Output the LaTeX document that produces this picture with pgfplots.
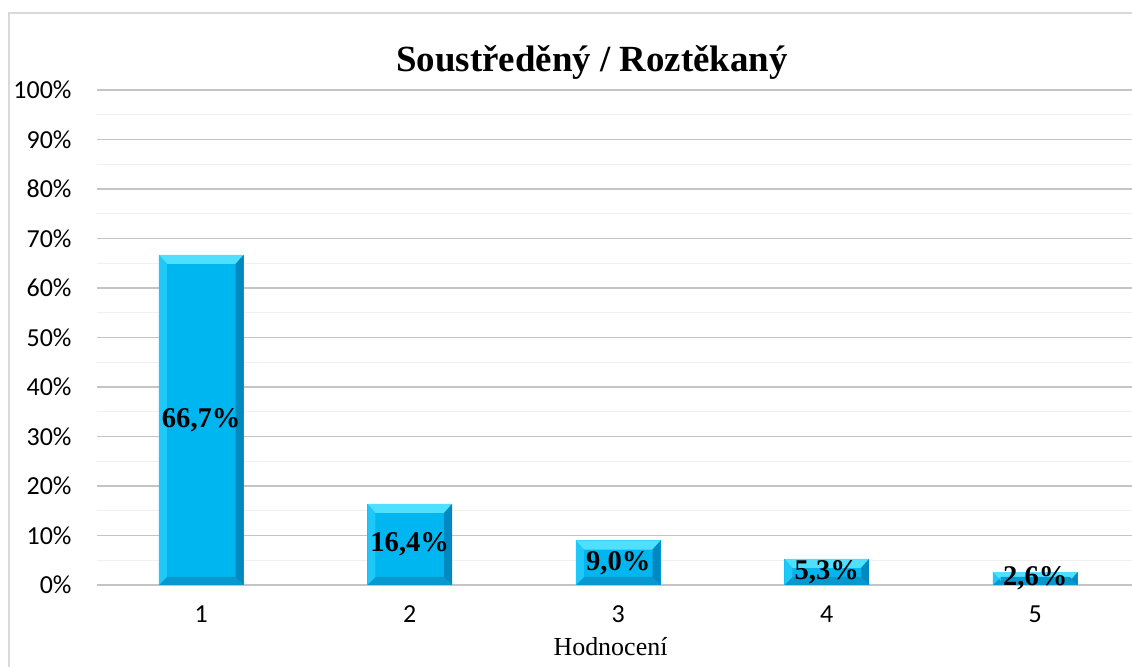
\documentclass[border=0pt]{standalone}
\usepackage{pgfplots}
\pgfplotsset{compat=1.18}
\usepackage{fontspec}
\setmainfont{Liberation Serif}
\newfontfamily\calibri{Carlito}
\definecolor{barmain}{RGB}{0,182,240}
\definecolor{bartop}{RGB}{80,224,255}
\definecolor{barleft}{RGB}{30,200,248}
\definecolor{barbot}{RGB}{8,152,208}
\definecolor{barright}{RGB}{0,136,192}
\definecolor{gridmaj}{RGB}{196,196,196}
\definecolor{gridmin}{RGB}{240,240,240}
\definecolor{framec}{RGB}{217,217,217}
\newcommand\PP[3]{\pgfpointadd{\pgfpointanchor{path picture bounding box}{#1}}{\pgfpoint{#2}{#3}}}
\newcommand\bevel{%
  \pgfpathmoveto{\PP{north west}{0pt}{0pt}}\pgfpathlineto{\PP{north east}{0pt}{0pt}}%
  \pgfpathlineto{\PP{north east}{-3.1pt}{-3.5pt}}\pgfpathlineto{\PP{north west}{3.1pt}{-3.5pt}}\pgfpathclose
  \pgfsetfillcolor{bartop}\pgfusepath{fill}%
  \pgfpathmoveto{\PP{south west}{0pt}{0pt}}\pgfpathlineto{\PP{south east}{0pt}{0pt}}%
  \pgfpathlineto{\PP{south east}{-3.1pt}{3.1pt}}\pgfpathlineto{\PP{south west}{3.1pt}{3.1pt}}\pgfpathclose
  \pgfsetfillcolor{barbot}\pgfusepath{fill}%
  \pgfpathmoveto{\PP{north west}{0pt}{0pt}}\pgfpathlineto{\PP{south west}{0pt}{0pt}}%
  \pgfpathlineto{\PP{south west}{3.1pt}{3.1pt}}\pgfpathlineto{\PP{north west}{3.1pt}{-3.5pt}}\pgfpathclose
  \pgfsetfillcolor{barleft}\pgfusepath{fill}%
  \pgfpathmoveto{\PP{north east}{0pt}{0pt}}\pgfpathlineto{\PP{south east}{0pt}{0pt}}%
  \pgfpathlineto{\PP{south east}{-3.1pt}{3.1pt}}\pgfpathlineto{\PP{north east}{-3.1pt}{-3.5pt}}\pgfpathclose
  \pgfsetfillcolor{barright}\pgfusepath{fill}%
}
\pgfplotsset{mybar/.style={ybar, bar width=32.7pt, fill=barmain, draw=none,
  path picture={\bevel},
  nodes near coords={\pgfmathprintnumber[fixed,fixed zerofill,precision=1,use comma]{\pgfplotspointmeta}\%},
  nodes near coords style={font=\bfseries\fontsize{11}{13}\selectfont, anchor=center, text=black, inner sep=0pt},
  visualization depends on={y \as \rawy},
  every node near coord/.append style={shift={(axis direction cs:0,-\rawy/2)}},
}}
\begin{document}
\begin{tikzpicture}[x=0.385pt,y=0.385pt]
\useasboundingbox (-97,-82) rectangle (1035,585);
\clip (-97,-82) rectangle (1035,585);
\fill[white] (-97,-82) rectangle (1035,585);
\draw[framec, line width=0.6pt] (-88,572) rectangle (1300,-300);
\begin{axis}[
  at={(0,0)}, anchor=south west,
  x=80.2725pt, y=1.90575pt,
  xmin=0.5, xmax=5.5, ymin=0, ymax=100,
  enlargelimits=false,
  axis line style={draw=none},
  major tick style={draw=none}, minor tick style={draw=none},
  xtick={1,2,3,4,5},
  ytick={0,10,...,100},
  minor ytick={5,15,...,95},
  ymajorgrids, yminorgrids,
  major grid style={color=gridmaj, line width=0.6pt},
  minor grid style={color=gridmin, line width=0.5pt},
  yticklabel={\pgfmathprintnumber{\tick}\%},
  /pgf/number format/assume math mode=true,
  ticklabel style={font=\calibri\fontsize{10}{12}\selectfont},
  yticklabel style={anchor=east, inner sep=0pt, xshift=-9.6pt},
  xticklabel style={anchor=base, inner sep=0pt, yshift=-14.6pt},
  clip=false,
]
\addplot[mybar] coordinates {(1,66.7)};
\addplot[mybar] coordinates {(2,16.4)};
\addplot[mybar] coordinates {(3,9.0)};
\addplot[mybar] coordinates {(4,5.3)};
\addplot[mybar] coordinates {(5,2.6)};
\end{axis}
\node[font=\bfseries\fontsize{14.2}{17}\selectfont, anchor=base] at (495,513) {Soustředěný / Roztěkaný};
\node[font=\fontsize{10}{12}\selectfont, anchor=base] at (513.5,-71) {Hodnocení};
\end{tikzpicture}
\end{document}
